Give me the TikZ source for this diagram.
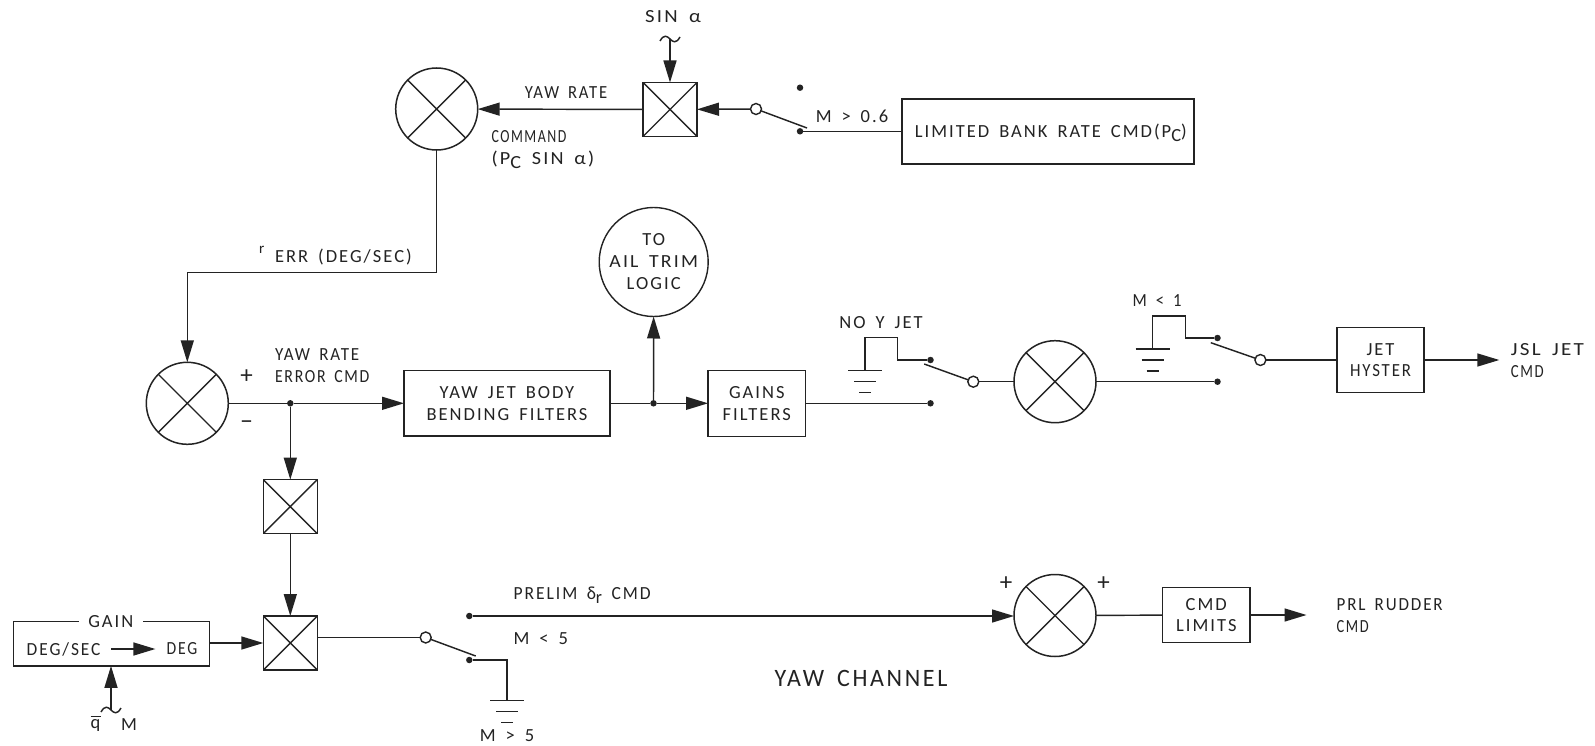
\documentclass[tikz,border=0pt]{standalone}
\usepackage{fontspec}
\usetikzlibrary{arrows.meta}
\newfontfamily\lblfont[LetterSpace=11,WordSpace=1.6]{Carlito}
\newcommand{\lblsz}{\lblfont\fontsize{18.5}{21.7}\selectfont}
\newcommand{\subsc}[1]{\raisebox{-4pt}{#1}}
\newcommand{\hs}[2]{\scalebox{#1}[1]{#2}}
\tikzset{
  every node/.style={inner sep=0pt,outer sep=0pt,font=\lblsz,text=ink},
  lw/.style={line width=1.45pt,draw=ink},
  arr/.style={lw,-{Triangle[length=22pt,width=13pt]}},
  mulshape/.style={draw=ink,line width=1.5pt,path picture={
     \draw[line width=1.4pt,draw=ink] (path picture bounding box.north west) -- (path picture bounding box.south east)
       (path picture bounding box.north east) -- (path picture bounding box.south west);}},
  sumnode/.style={circle,mulshape,minimum size=82pt},
  mulnode/.style={rectangle,mulshape,minimum width=54pt,minimum height=54pt},
  blockbox/.style={rectangle,draw=ink,line width=1.5pt,align=center},
  tonode/.style={circle,draw=ink,line width=1.4pt,minimum size=109pt,align=center},
  dotnode/.style={circle,fill=ink,minimum size=6.5pt},
  opennode/.style={circle,draw=ink,line width=1.4pt,fill=white,minimum size=11pt},
  bigmark/.style={font=\lblfont\fontsize{25}{26}\selectfont},
  grnd/.pic={\draw[lw] (-17,0) -- (17,0) (-11,11) -- (11,11) (-6,22) -- (6,22);},
  tildemark/.pic={\draw[lw] (-10,2) .. controls (-6,-5) and (-3,-3) .. (0,0) .. controls (3,3) and (6,5) .. (10,-2);}
}
\definecolor{ink}{RGB}{35,35,35}
\begin{document}
\begin{tikzpicture}[x=1pt,y=-1pt]
\useasboundingbox[fill=white] (0,0) rectangle (1595,746);
% multipliers and summers
\node[sumnode] (sumA) at (436.7,109) {};
\node[mulnode] (mulA) at (670,109.5) {};
\node[sumnode] (sumB) at (187.3,403.3) {};
\node[sumnode] (sumC) at (1055,381.7) {};
\node[sumnode] (sumD) at (1055,615.5) {};
\node[mulnode] (mulB) at (290.3,506.6) {};
\node[mulnode] (mulC) at (290.3,643) {};
% blocks
\node[blockbox,minimum width=292pt,minimum height=65pt] (limbox) at (1048,131.3) {};
\node[anchor=base] (limtxt) at (1050.8,138) {LIMITED BANK RATE CMD(P\subsc{C})};
\node[blockbox,minimum width=206pt,minimum height=65.5pt] (yawbox) at (507,403.3) {YAW JET BODY\\BENDING FILTERS};
\node[blockbox,minimum width=97.5pt,minimum height=66pt] (gainsbox) at (756.8,403.3) {GAINS\\FILTERS};
\node[blockbox,minimum width=87.4pt,minimum height=65.4pt] (jetbox) at (1380.5,360) {JET\\\hs{.91}{HYSTER}};
\node[blockbox,minimum width=87.3pt,minimum height=55pt] (cmdbox) at (1206.3,615) {CMD\\LIMITS};
\node[blockbox,minimum width=196pt,minimum height=44.4pt] (gainbox) at (111.3,643.7) {};
\node[fill=white,minimum width=64pt,minimum height=16pt] (gainlbl) at (110.8,622) {GAIN};
\node (degsec) at (63.6,649) {\hs{.94}{DEG/SEC}};
\node (deg) at (182,649) {\hs{.85}{DEG}};
\node[tonode] (trim) at (653.7,262) {};
\node (trimA) at (653.7,240) {TO};
\node (trimB) at (653.7,261.7) {\hs{1.07}{AIL TRIM}};
\node (trimC) at (653.7,283.4) {LOGIC};
% dots and switch contacts
\node[opennode] (swAo) at (756,109) {};
\node[dotnode] (swAu) at (800,87.7) {};
\node[dotnode] (swAl) at (800,131.3) {};
\node[dotnode] (tapA) at (290.3,403.3) {};
\node[dotnode] (tapB) at (653.5,403.3) {};
\node[dotnode] (swBl) at (930.5,403.3) {};
\node[dotnode] (swBu) at (930.5,360) {};
\node[opennode] (swBo) at (973.3,381.7) {};
\node[dotnode] (swCl) at (1217.5,381.7) {};
\node[dotnode] (swCu) at (1217.5,338) {};
\node[opennode] (swCo) at (1260.4,360) {};
\node[dotnode] (swDu) at (469.3,616) {};
\node[dotnode] (swDl) at (469.3,660) {};
\node[opennode] (swDo) at (425.7,637.5) {};
% free ends
\coordinate (sinin) at (670,39);
\coordinate (swAe) at (807,128);
\coordinate (swBe) at (924.2,364);
\coordinate (swCe) at (1210.8,342.7);
\coordinate (swDe) at (475.7,656);
\coordinate (jetout) at (1499.3,360);
\coordinate (prlout) at (1306.5,615);
\coordinate (qin) at (111,710);
\coordinate (gndB) at (865,370.7);
\coordinate (gndC) at (1152.5,349);
\coordinate (gndD) at (507,700.5);
\coordinate (mulCout) at (317.3,637.5);
\coordinate (gainout) at (209.3,643);
\coordinate (errturn) at (187.3,272.7);
% connectors
\draw[arr] (sinin) -- (mulA);
\draw[arr] (mulA) -- (sumA);
\draw[arr] (swAo) -- (mulA);
\draw[lw] (swAo) -- (swAe);
\draw[lw] (swAl) -- (limbox.west |- swAl);
\draw[lw] (sumA.south) |- (errturn);
\draw[arr] (errturn) -- (sumB);
\draw[lw] (sumB) -- (tapA);
\draw[arr] (tapA) -- (yawbox);
\draw[arr] (tapA) -- (mulB);
\draw[arr] (mulB) -- (mulC);
\draw[lw] (yawbox) -- (tapB);
\draw[arr] (tapB) -- (trim);
\draw[arr] (tapB) -- (gainsbox);
\draw[lw] (gainsbox) -- (swBl);
\draw[lw] (swBu) -- (897.4,360) |- (865,337.7) -- (gndB);
\draw[lw] (swBo) -- (swBe);
\draw[lw] (swBo) -- (sumC);
\draw[lw] (sumC) -- (swCl);
\draw[lw] (swCu) -- (1185.4,338) |- (1152.5,316) -- (gndC);
\draw[lw] (swCo) -- (swCe);
\draw[lw] (swCo) -- (jetbox);
\draw[arr] (jetbox) -- (jetout);
\draw[arr] (gainout) -- (mulC.west |- gainout);
\draw[lw] (mulCout) -- (swDo);
\draw[lw] (swDo) -- (swDe);
\draw[lw] (swDl) -| (gndD);
\draw[arr] (swDu) -- (sumD.west |- swDu);
\draw[lw] (sumD) -- (cmdbox);
\draw[arr] (cmdbox) -- (prlout);
\draw[arr] (qin) -- (gainbox.south -| qin);
\draw[arr] (111,649) -- (155.4,649);
% grounds and tildes
\pic at (gndB) {grnd};
\pic at (gndC) {grnd};
\pic at (gndD) {grnd};
\pic at (sinin) {tildemark};
\pic at (qin) {tildemark};
% labels
\node (lsin) at (673,17) {\hs{1.12}{SIN α}};
\node (lyawrate) at (566,93) {\hs{.9}{YAW RATE}};
\node[anchor=west] (lcmd) at (491.5,137) {\hs{.75}{COMMAND}};
\node[anchor=base west] (lpc) at (491.5,164.5) {\hs{1.09}{(P\subsc{C} SIN α)}};
\node (lmach) at (852,116) {M > 0.6};
\node[anchor=west] (lerr) at (275,256.7) {ERR (DEG/SEC)};
\node[font=\lblfont\fontsize{15}{16}\selectfont] (lr) at (261.7,250) {r};
\node[anchor=west] (lyre) at (275,355) {\hs{.92}{YAW RATE}};
\node[anchor=west] (lerc) at (275,376.7) {\hs{.855}{ERROR CMD}};
\node[bigmark] (lplusA) at (246.7,376.7) {+};
\node[bigmark] (lminA) at (246.7,425) {−};
\node (lnoy) at (881,322.3) {NO Y JET};
\node (lmone) at (1157,300.7) {\hs{.9}{M < 1}};
\node[anchor=west] (ljsl) at (1510.8,350) {\hs{1.14}{JSL JET}};
\node[anchor=west] (ljcmd) at (1510.8,371.7) {\hs{.8}{CMD}};
\node[anchor=base west] (lprelim) at (513.6,599.8) {\hs{.95}{PRELIM δ\subsc{r} CMD}};
\node[anchor=west] (lmfl) at (513.6,638.3) {M < 5};
\node (lmfg) at (507,736) {M > 5};
\node[bigmark] (lpB) at (1006,583.3) {+};
\node[bigmark] (lpC) at (1103.7,583.3) {+};
\node[anchor=west] (lprl) at (1336.6,605) {\hs{.92}{PRL RUDDER}};
\node[anchor=west] (lprc) at (1336.6,627) {\hs{.78}{CMD}};
\node[font=\lblfont\fontsize{25}{26}\selectfont] (lchan) at (861,678) {\hs{.96}{YAW CHANNEL}};
\node (lq) at (95.4,724) {\rlap{\raisebox{11.5pt}{\rule{10pt}{1.2pt}}}q};
\node (lm) at (129,725) {M};
\end{tikzpicture}
\end{document}
